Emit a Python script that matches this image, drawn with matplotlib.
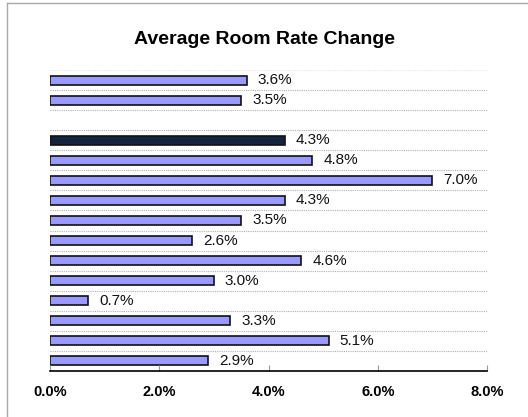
import numpy as np
import matplotlib.pyplot as plt
from matplotlib.lines import Line2D

plt.rcParams['font.family'] = ['Liberation Sans', 'DejaVu Sans']

# values top to bottom, None = empty slot
values = [3.6, 3.5, None, 4.3, 4.8, 7.0, 4.3, 3.5, 2.6, 4.6, 3.0, 0.7, 3.3, 5.1, 2.9]
highlight = [False, False, False, True] + [False] * 11
xticks = [0, 2, 4, 6, 8]
xticklabels = ['0.0%', '2.0%', '4.0%', '6.0%', '8.0%']

fig = plt.figure(figsize=(5.28, 4.17), dpi=100)
ax = fig.add_axes([50 / 528, 1 - 371 / 417, 437 / 528, 301 / 417])

n = len(values)
for i, v in enumerate(values):
    if v is None:
        continue
    c = '#14243c' if highlight[i] else '#9999ff'
    ax.barh(i, v, height=0.45, color=c, edgecolor='#111111', linewidth=1.2)
    ax.text(v + 0.2, i, f'{v:.1f}%', va='center', ha='left', fontsize=11, color='#111111')

ax.set_ylim(n - 0.5, -0.5)
ax.set_xlim(0, 8)

# dotted gridlines between categories
for b in np.arange(1, n) - 0.5:
    ax.axhline(b, color='#b0b0b0', linestyle=(0, (1, 1)), linewidth=0.8, zorder=0)
ax.axhline(-0.5, color='#e6e6e6', linestyle=(0, (1, 1)), linewidth=0.8, zorder=0)

ax.set_yticks([])
ax.set_xticks(xticks)
ax.set_xticklabels(xticklabels, fontweight='bold', fontsize=10.5)
ax.tick_params(axis='x', direction='in', length=4, pad=10, color='#999999')
for s in ['top', 'left', 'right']:
    ax.spines[s].set_visible(False)
ax.spines['bottom'].set_linewidth(1.2)

fig.text(0.5, 1 - 40 / 417, 'Average Room Rate Change', ha='center', va='center',
         fontsize=14, fontweight='bold')

# frame lines at top and left
fig.add_artist(Line2D([7 / 528, 7 / 528], [0, 1 - 3 / 417], transform=fig.transFigure, color='#aaaaaa', lw=1))
fig.add_artist(Line2D([7 / 528, 1], [1 - 3 / 417, 1 - 3 / 417], transform=fig.transFigure, color='#aaaaaa', lw=1))

fig.savefig('out.png', dpi=100)
